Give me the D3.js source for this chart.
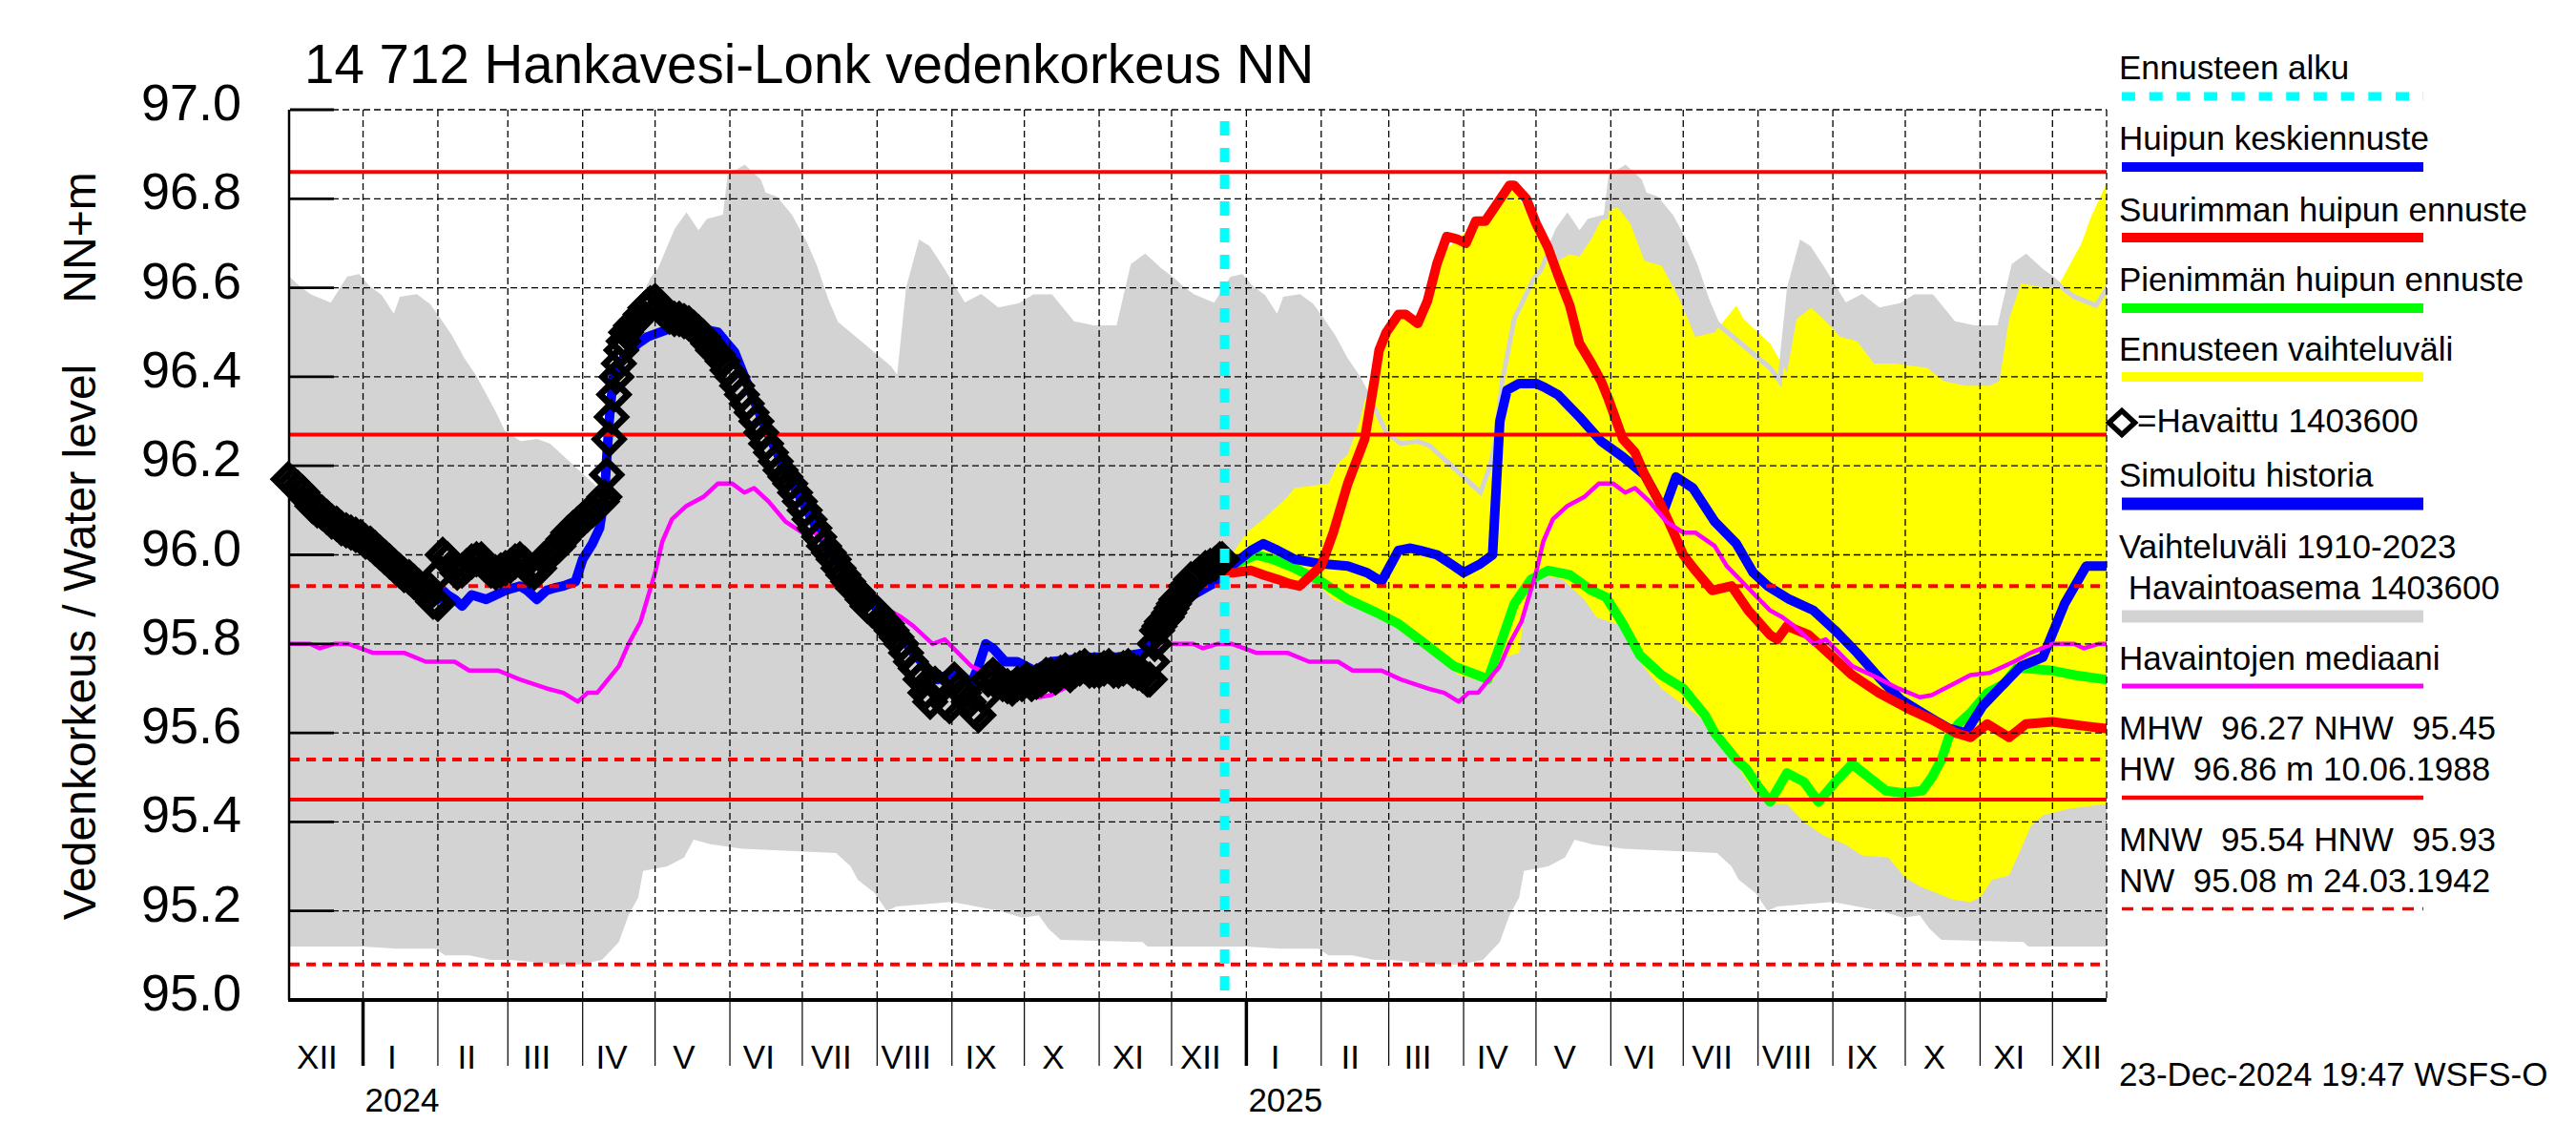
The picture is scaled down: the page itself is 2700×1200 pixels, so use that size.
<!DOCTYPE html>
<html><head><meta charset="utf-8">
<script src="https://cdn.jsdelivr.net/npm/d3@7"></script>
<style>
body{margin:0;background:#fff}
svg{display:block}
text{font-family:"Liberation Sans",Arial,Helvetica,sans-serif;fill:#000}
</style>
</head><body>
<svg id="chart" width="2700" height="1200"></svg>
<script>
// ---------------- DATA ----------------
const titleText = "14 712 Hankavesi-Lonk vedenkorkeus NN";
const yTitleMain = "Vedenkorkeus / Water level";
const yTitleUnit = "NN+m";
const monthLabels = ["I","II","III","IV","V","VI","VII","VIII","IX","X","XI","XII"];
const yearLabels = ["2024","2025"];
const yTicks = [95.0,95.2,95.4,95.6,95.8,96.0,96.2,96.4,96.6,96.8,97.0];
const forecastStart = "2024-12-23";

// reference levels
const refSolid = [96.86, 96.27, 95.45];   // HW, MHW, NHW
const refDashed = [95.93, 95.54, 95.08];  // HNW, MNW, NW

// climatology 1910-2023 (month-day, value) - repeats every year
const climUpper = [["01-03",96.60],["01-08",96.58],["01-14",96.53],["01-17",96.575],["01-23",96.58],["01-28",96.56],
["02-01",96.53],["02-06",96.49],["02-11",96.44],["02-16",96.40],["02-20",96.36],["02-24",96.32],["02-28",96.275],
["03-06",96.25],["03-13",96.255],["03-18",96.245],["03-23",96.22],["03-27",96.20],["04-01",96.175],["04-05",96.155],
["04-08",96.14],["04-12",96.20],["04-14",96.25],["04-17",96.39],["04-22",96.53],["04-26",96.575],["04-30",96.62],
["05-03",96.64],["05-10",96.73],["05-14",96.76],["05-19",96.72],["05-23",96.75],["05-30",96.76],["06-01",96.85],
["06-07",96.87],["06-13",96.84],["06-15",96.81],["06-20",96.80],["06-26",96.76],["07-02",96.70],["07-06",96.65],
["07-11",96.57],["07-15",96.52],["07-26",96.47],["08-06",96.42],["08-10",96.39],["08-14",96.60],["08-19",96.70],
["08-22",96.69],["08-28",96.64],["09-06",96.56],["09-13",96.58],["09-20",96.55],["09-29",96.56],["10-05",96.58],
["10-12",96.58],["10-21",96.52],["10-30",96.51],["11-09",96.51],["11-15",96.65],["11-20",96.67],["11-26",96.64],
["12-01",96.62],["12-05",96.60],["12-10",96.58],["12-19",96.56],["12-26",96.62],["12-30",96.625]];
const climLower = [["01-01",95.12],["01-15",95.115],["01-31",95.115],["02-04",95.10],["02-14",95.10],["02-23",95.09],
["03-02",95.09],["03-22",95.08],["03-31",95.08],["04-09",95.09],["04-16",95.13],["04-20",95.19],["04-24",95.23],
["04-26",95.29],["05-06",95.30],["05-13",95.32],["05-17",95.36],["05-24",95.35],["06-06",95.34],["07-15",95.33],
["07-21",95.30],["07-24",95.27],["07-31",95.24],["08-05",95.20],["08-09",95.21],["09-01",95.22],["09-21",95.20],
["09-30",95.185],["10-07",95.19],["10-11",95.16],["10-16",95.135],["11-19",95.13],["11-21",95.12],["12-03",95.12],["12-20",95.12]];
const climMedian = [["01-05",95.78],["01-18",95.78],["01-27",95.76],["02-08",95.76],["02-14",95.74],["02-26",95.74],
["03-06",95.72],["03-17",95.70],["03-24",95.69],["03-30",95.67],["04-03",95.69],["04-07",95.69],["04-16",95.75],
["04-20",95.80],["04-25",95.85],["05-01",95.96],["05-04",96.03],["05-08",96.08],["05-14",96.11],["05-21",96.13],
["05-27",96.16],["06-02",96.16],["06-07",96.14],["06-11",96.15],["06-17",96.12],["06-24",96.075],["07-01",96.05],
["07-06",96.05],["07-14",96.02],["07-19",95.975],["07-28",95.925],["08-06",95.875],["08-11",95.86],["08-16",95.84],
["08-24",95.80],["08-29",95.81],["09-09",95.75],["09-19",95.725],["09-28",95.70],["10-07",95.68],["10-12",95.685],
["10-21",95.71],["10-28",95.73],["11-05",95.735],["11-15",95.76],["11-22",95.78],["12-01",95.80],["12-10",95.80],
["12-14",95.79],["12-20",95.80],["12-26",95.80],["12-31",95.79]];

// observed water level (station 1403600)
const observed = [
["2023-12-01",96.17],["2023-12-03",96.16],["2023-12-05",96.15],["2023-12-07",96.14],["2023-12-09",96.125],["2023-12-11",96.11],
["2023-12-13",96.10],["2023-12-15",96.095],["2023-12-17",96.085],["2023-12-19",96.075],["2023-12-21",96.07],["2023-12-23",96.06],
["2023-12-25",96.055],["2023-12-27",96.05],["2023-12-29",96.045],["2023-12-31",96.04],
["2024-01-02",96.03],["2024-01-04",96.025],["2024-01-06",96.015],["2024-01-08",96.005],["2024-01-10",95.995],["2024-01-12",95.985],
["2024-01-14",95.975],["2024-01-16",95.965],["2024-01-18",95.955],["2024-01-20",95.95],["2024-01-22",95.94],["2024-01-24",95.93],
["2024-01-26",95.92],["2024-01-28",95.91],["2024-01-30",95.895],
["2024-02-01",95.89],["2024-02-02",95.96],["2024-02-03",96.00],["2024-02-05",95.99],["2024-02-07",95.975],["2024-02-09",95.96],
["2024-02-11",95.965],["2024-02-13",95.975],["2024-02-15",95.985],["2024-02-17",95.99],["2024-02-19",95.99],["2024-02-21",95.975],
["2024-02-23",95.965],["2024-02-25",95.96],["2024-02-27",95.965],["2024-02-29",95.97],
["2024-03-02",95.975],["2024-03-04",95.985],["2024-03-06",95.99],["2024-03-08",95.98],["2024-03-10",95.965],["2024-03-12",95.96],
["2024-03-14",95.97],["2024-03-16",95.99],["2024-03-18",96.00],["2024-03-20",96.01],["2024-03-22",96.02],["2024-03-24",96.035],
["2024-03-26",96.05],["2024-03-28",96.06],["2024-03-30",96.07],
["2024-04-01",96.08],["2024-04-03",96.09],["2024-04-05",96.10],["2024-04-07",96.11],["2024-04-09",96.12],["2024-04-10",96.13],
["2024-04-11",96.18],["2024-04-12",96.26],["2024-04-13",96.31],["2024-04-14",96.36],["2024-04-15",96.40],["2024-04-16",96.43],
["2024-04-17",96.46],["2024-04-18",96.48],["2024-04-19",96.50],["2024-04-21",96.515],["2024-04-23",96.525],["2024-04-25",96.54],
["2024-04-27",96.555],["2024-04-29",96.565],
["2024-05-01",96.57],["2024-05-03",96.555],["2024-05-05",96.545],["2024-05-07",96.535],["2024-05-09",96.53],["2024-05-11",96.53],
["2024-05-13",96.525],["2024-05-15",96.52],["2024-05-17",96.51],["2024-05-19",96.50],["2024-05-21",96.49],["2024-05-23",96.475],
["2024-05-25",96.46],["2024-05-27",96.45],["2024-05-29",96.435],["2024-05-31",96.415],
["2024-06-02",96.40],["2024-06-04",96.38],["2024-06-06",96.36],["2024-06-08",96.34],["2024-06-10",96.32],["2024-06-12",96.30],
["2024-06-14",96.275],["2024-06-16",96.25],["2024-06-18",96.23],["2024-06-20",96.21],["2024-06-22",96.19],["2024-06-24",96.175],
["2024-06-26",96.16],["2024-06-28",96.14],["2024-06-30",96.12],
["2024-07-02",96.10],["2024-07-04",96.08],["2024-07-06",96.06],["2024-07-08",96.04],["2024-07-10",96.02],["2024-07-12",96.005],
["2024-07-14",95.99],["2024-07-16",95.97],["2024-07-18",95.955],["2024-07-20",95.94],["2024-07-22",95.925],["2024-07-24",95.915],
["2024-07-26",95.90],["2024-07-28",95.885],["2024-07-30",95.875],
["2024-08-01",95.87],["2024-08-03",95.855],["2024-08-05",95.845],["2024-08-07",95.83],["2024-08-09",95.815],["2024-08-11",95.80],
["2024-08-13",95.78],["2024-08-15",95.76],["2024-08-17",95.745],["2024-08-19",95.72],["2024-08-21",95.69],["2024-08-23",95.67],
["2024-08-25",95.71],["2024-08-27",95.70],["2024-08-29",95.67],["2024-08-31",95.66],
["2024-09-02",95.72],["2024-09-04",95.70],["2024-09-06",95.69],["2024-09-08",95.67],["2024-09-10",95.65],["2024-09-12",95.64],
["2024-09-14",95.68],["2024-09-16",95.72],["2024-09-18",95.73],["2024-09-20",95.72],["2024-09-22",95.71],["2024-09-24",95.705],
["2024-09-26",95.70],["2024-09-28",95.71],["2024-09-30",95.71],
["2024-10-02",95.72],["2024-10-04",95.71],["2024-10-06",95.715],["2024-10-08",95.72],["2024-10-10",95.73],["2024-10-12",95.73],
["2024-10-14",95.725],["2024-10-16",95.735],["2024-10-18",95.74],["2024-10-20",95.73],["2024-10-22",95.74],["2024-10-24",95.745],
["2024-10-26",95.75],["2024-10-28",95.74],["2024-10-30",95.74],
["2024-11-01",95.74],["2024-11-03",95.745],["2024-11-05",95.75],["2024-11-07",95.74],["2024-11-09",95.74],["2024-11-11",95.745],
["2024-11-13",95.75],["2024-11-15",95.74],["2024-11-17",95.735],["2024-11-19",95.73],["2024-11-21",95.72],["2024-11-22",95.72],
["2024-11-23",95.76],["2024-11-24",95.80],["2024-11-25",95.83],["2024-11-26",95.84],["2024-11-27",95.85],["2024-11-28",95.855],
["2024-11-29",95.86],["2024-11-30",95.87],
["2024-12-01",95.88],["2024-12-02",95.89],["2024-12-03",95.90],["2024-12-05",95.91],["2024-12-07",95.93],["2024-12-09",95.945],
["2024-12-11",95.95],["2024-12-13",95.96],["2024-12-15",95.97],["2024-12-17",95.975],["2024-12-19",95.98],["2024-12-21",95.99],
["2024-12-22",95.99]];

// simulated history
const simulated = [["2023-12-01",96.16],["2023-12-16",96.08],["2024-01-01",96.03],["2024-01-16",95.96],["2024-02-01",95.90],
["2024-02-02",95.925],["2024-02-05",95.91],["2024-02-08",95.90],["2024-02-11",95.885],["2024-02-15",95.91],["2024-02-18",95.905],
["2024-02-21",95.90],["2024-02-25",95.91],["2024-02-29",95.92],["2024-03-03",95.925],["2024-03-06",95.93],["2024-03-09",95.92],
["2024-03-13",95.90],["2024-03-17",95.92],["2024-03-20",95.925],["2024-03-24",95.93],["2024-03-29",95.94],["2024-04-01",95.99],
["2024-04-05",96.025],["2024-04-08",96.06],["2024-04-10",96.13],["2024-04-11",96.22],["2024-04-12",96.30],["2024-04-13",96.36],
["2024-04-14",96.41],["2024-04-19",96.45],["2024-04-24",96.475],["2024-04-28",96.49],["2024-05-08",96.51],["2024-05-18",96.51],
["2024-05-27",96.50],["2024-06-03",96.455],["2024-06-10",96.36],["2024-06-17",96.27],["2024-06-24",96.19],["2024-07-01",96.12],
["2024-07-08",96.05],["2024-07-15",95.99],["2024-07-26",95.91],["2024-08-05",95.86],["2024-08-16",95.78],["2024-08-26",95.72],
["2024-08-30",95.73],["2024-09-03",95.74],["2024-09-09",95.71],["2024-09-12",95.75],["2024-09-15",95.80],["2024-09-18",95.79],
["2024-09-23",95.76],["2024-09-28",95.76],["2024-10-05",95.74],["2024-10-12",95.76],["2024-10-21",95.765],["2024-10-30",95.77],
["2024-11-09",95.77],["2024-11-20",95.78],["2024-11-25",95.83],["2024-12-01",95.89],["2024-12-10",95.91],["2024-12-18",95.935],
["2024-12-23",95.96]];

// forecasts
const forecastMean = [["2024-12-23",95.965],["2024-12-27",95.98],["2025-01-03",96.01],["2025-01-08",96.025],["2025-01-14",96.01],
["2025-01-21",95.99],["2025-02-01",95.98],["2025-02-12",95.975],["2025-02-20",95.96],["2025-02-26",95.94],["2025-03-01",95.97],
["2025-03-05",96.01],["2025-03-10",96.015],["2025-03-14",96.01],["2025-03-21",96.00],["2025-03-28",95.975],["2025-04-01",95.96],
["2025-04-08",95.98],["2025-04-13",96.00],["2025-04-14",96.10],["2025-04-16",96.30],["2025-04-19",96.37],["2025-04-24",96.385],
["2025-05-01",96.385],["2025-05-05",96.375],["2025-05-10",96.36],["2025-05-19",96.31],["2025-05-28",96.255],["2025-06-06",96.22],
["2025-06-15",96.18],["2025-06-23",96.10],["2025-06-28",96.175],["2025-07-05",96.15],["2025-07-14",96.075],["2025-07-23",96.025],
["2025-07-30",95.96],["2025-08-05",95.93],["2025-08-14",95.90],["2025-08-24",95.875],["2025-09-02",95.83],["2025-09-11",95.78],
["2025-09-20",95.725],["2025-09-29",95.675],["2025-10-08",95.645],["2025-10-19",95.61],["2025-10-26",95.60],["2025-11-02",95.66],
["2025-11-09",95.70],["2025-11-18",95.75],["2025-11-27",95.77],["2025-12-06",95.89],["2025-12-15",95.975],["2025-12-23",95.975]];
const forecastMax = [["2024-12-23",95.96],["2024-12-27",95.96],["2025-01-03",95.965],["2025-01-08",95.955],["2025-01-14",95.945],
["2025-01-19",95.935],["2025-01-23",95.93],["2025-01-28",95.955],["2025-02-01",95.975],["2025-02-06",96.05],["2025-02-12",96.16],
["2025-02-19",96.26],["2025-02-23",96.39],["2025-02-25",96.46],["2025-02-28",96.50],["2025-03-05",96.54],["2025-03-08",96.54],
["2025-03-13",96.52],["2025-03-17",96.57],["2025-03-21",96.655],["2025-03-25",96.715],["2025-03-29",96.71],["2025-04-02",96.70],
["2025-04-06",96.75],["2025-04-10",96.75],["2025-04-15",96.79],["2025-04-20",96.83],["2025-04-22",96.83],["2025-04-27",96.80],
["2025-05-01",96.745],["2025-05-06",96.69],["2025-05-10",96.63],["2025-05-15",96.56],["2025-05-19",96.475],["2025-05-24",96.43],
["2025-05-28",96.39],["2025-05-31",96.35],["2025-06-06",96.26],["2025-06-11",96.23],["2025-06-15",96.18],["2025-06-22",96.11],
["2025-06-27",96.05],["2025-07-01",96.00],["2025-07-06",95.965],["2025-07-13",95.92],["2025-07-21",95.93],["2025-07-28",95.875],
["2025-08-06",95.82],["2025-08-09",95.81],["2025-08-13",95.84],["2025-08-22",95.82],["2025-08-31",95.775],["2025-09-09",95.73],
["2025-09-20",95.69],["2025-10-02",95.655],["2025-10-12",95.63],["2025-10-22",95.60],["2025-10-28",95.59],["2025-11-04",95.62],
["2025-11-13",95.59],["2025-11-20",95.62],["2025-12-01",95.625],["2025-12-15",95.615],["2025-12-23",95.61]];
const forecastMin = [["2024-12-23",95.96],["2024-12-28",95.98],["2025-01-05",96.00],["2025-01-12",95.99],["2025-01-21",95.97],
["2025-02-01",95.94],["2025-02-12",95.90],["2025-02-24",95.87],["2025-03-05",95.845],["2025-03-16",95.80],["2025-03-28",95.75],
["2025-04-09",95.725],["2025-04-11",95.72],["2025-04-15",95.78],["2025-04-22",95.89],["2025-04-29",95.945],["2025-05-06",95.965],
["2025-05-15",95.955],["2025-05-24",95.92],["2025-05-30",95.905],["2025-06-06",95.845],["2025-06-13",95.775],["2025-06-22",95.73],
["2025-07-01",95.70],["2025-07-10",95.64],["2025-07-14",95.60],["2025-07-23",95.54],["2025-07-27",95.52],["2025-08-01",95.48],
["2025-08-06",95.445],["2025-08-13",95.51],["2025-08-20",95.49],["2025-08-26",95.445],["2025-09-02",95.49],["2025-09-09",95.53],
["2025-09-16",95.50],["2025-09-23",95.47],["2025-09-30",95.465],["2025-10-08",95.47],["2025-10-12",95.50],["2025-10-16",95.54],
["2025-10-19",95.59],["2025-10-23",95.62],["2025-10-28",95.645],["2025-11-04",95.69],["2025-11-11",95.71],["2025-11-16",95.745],
["2025-11-20",95.745],["2025-12-01",95.74],["2025-12-10",95.73],["2025-12-23",95.72]];
const forecastUpper = [["2024-12-23",95.96],["2024-12-26",96.00],["2025-01-01",96.05],["2025-01-08",96.08],["2025-01-17",96.125],
["2025-01-21",96.15],["2025-01-28",96.155],["2025-02-04",96.16],["2025-02-08",96.205],["2025-02-12",96.225],["2025-02-17",96.30],
["2025-02-21",96.39],["2025-02-26",96.49],["2025-03-08",96.54],["2025-03-13",96.53],["2025-03-19",96.60],["2025-03-23",96.68],
["2025-03-30",96.71],["2025-04-06",96.75],["2025-04-13",96.77],["2025-04-20",96.83],["2025-04-24",96.80],["2025-05-01",96.74],
["2025-05-05",96.69],["2025-05-10",96.66],["2025-05-15",96.675],["2025-05-19",96.67],["2025-05-24",96.71],["2025-05-30",96.775],
["2025-06-04",96.78],["2025-06-09",96.745],["2025-06-15",96.66],["2025-06-22",96.65],["2025-06-29",96.58],["2025-07-06",96.49],
["2025-07-14",96.50],["2025-07-23",96.56],["2025-07-26",96.53],["2025-08-06",96.475],["2025-08-13",96.41],["2025-08-17",96.53],
["2025-08-23",96.555],["2025-08-28",96.53],["2025-09-04",96.49],["2025-09-11",96.48],["2025-09-18",96.43],["2025-09-27",96.43],
["2025-10-03",96.425],["2025-10-10",96.42],["2025-10-17",96.39],["2025-10-26",96.38],["2025-11-05",96.38],["2025-11-09",96.39],
["2025-11-13",96.53],["2025-11-18",96.61],["2025-11-27",96.60],["2025-12-03",96.60],["2025-12-08",96.65],["2025-12-13",96.70],
["2025-12-17",96.76],["2025-12-23",96.83]];
const forecastLower = [["2024-12-23",95.96],["2024-12-27",95.955],["2025-01-08",95.95],["2025-01-19",95.93],["2025-01-28",95.945],
["2025-02-06",95.90],["2025-02-26",95.86],["2025-03-08",95.82],["2025-03-21",95.775],["2025-03-30",95.73],["2025-04-09",95.715],
["2025-04-13",95.715],["2025-04-18",95.77],["2025-04-24",95.78],["2025-04-27",95.90],["2025-05-03",95.955],["2025-05-12",95.945],
["2025-05-21",95.90],["2025-05-26",95.86],["2025-06-06",95.84],["2025-06-15",95.745],["2025-06-22",95.70],["2025-06-28",95.675],
["2025-07-08",95.635],["2025-07-14",95.60],["2025-07-23",95.53],["2025-07-30",95.47],["2025-08-06",95.44],["2025-08-13",95.44],
["2025-08-20",95.40],["2025-08-28",95.37],["2025-09-06",95.35],["2025-09-13",95.325],["2025-09-24",95.32],["2025-10-01",95.275],
["2025-10-07",95.255],["2025-10-14",95.24],["2025-10-21",95.225],["2025-10-28",95.22],["2025-11-01",95.23],["2025-11-06",95.27],
["2025-11-13",95.28],["2025-11-18",95.34],["2025-11-22",95.39],["2025-11-27",95.415],["2025-12-08",95.43],["2025-12-23",95.44]];

// legend texts
const legendForecast = ["Ennusteen alku","Huipun keskiennuste","Suurimman huipun ennuste","Pienimmän huipun ennuste","Ennusteen vaihteluväli"];
const legendObserved = "=Havaittu 1403600";
const legendSim = "Simuloitu historia";
const legendRange = ["Vaihteluväli 1910-2023"," Havaintoasema 1403600"];
const legendMedian = "Havaintojen mediaani";
const statTexts = ["MHW  96.27 NHW  95.45","HW  96.86 m 10.06.1988","MNW  95.54 HNW  95.93","NW  95.08 m 24.03.1942"];
const stampText = "23-Dec-2024 19:47 WSFS-O";

// ---------------- DRAW ----------------
const parse = s => { const [a,b,c] = s.split("-").map(Number); return new Date(Date.UTC(a,b-1,c)); };
const pts = arr => arr.map(d => [parse(d[0]), d[1]]);
function expandClim(arr){
  const out = [];
  [2023,2024,2025,2026].forEach(yr => arr.forEach(([md,v]) => {
    const [m,d] = md.split("-").map(Number);
    out.push([new Date(Date.UTC(yr,m-1,d)), v]);
  }));
  return out.filter(p => p[0] >= Date.UTC(2023,9,1) && p[0] <= Date.UTC(2026,2,1)).sort((a,b)=>a[0]-b[0]);
}

const L = 304, R = 2208, T = 115, B = 1048;
const x = d3.scaleUtc().domain([new Date(Date.UTC(2023,11,1,18)), new Date(Date.UTC(2025,11,23,10))]).range([L, R]);
const y = d3.scaleLinear().domain([95, 97]).range([B, T]);
const line = d3.line().x(d => x(d[0])).y(d => y(d[1]));

const svg = d3.select("#chart");
svg.append("rect").attr("width",2700).attr("height",1200).attr("fill","#fff");
svg.append("defs").append("clipPath").attr("id","plot")
  .append("rect").attr("x",L).attr("y",T-10).attr("width",R-L).attr("height",B-T+10);
const plot = svg.append("g").attr("clip-path","url(#plot)");

// gray historic band
const cu = expandClim(climUpper), cl = expandClim(climLower), cm = expandClim(climMedian);
plot.append("path").attr("d", line(cu.concat(cl.slice().reverse())) + "Z").attr("fill","#d3d3d3");

// yellow forecast band
const fu = pts(forecastUpper), fl = pts(forecastLower);
plot.append("path").attr("d", line(fu.concat(fl.slice().reverse())) + "Z").attr("fill","#ffff00");

// gray upper edge over yellow
plot.append("path").attr("d", line(cu)).attr("fill","none").attr("stroke","#d3d3d3").attr("stroke-width",5);

// grid
const gridG = svg.append("g").attr("stroke","#000").attr("stroke-width",1.3).attr("stroke-dasharray","7,4");
yTicks.filter(v => v > 95.01).forEach(v => {
  gridG.append("line").attr("x1",L).attr("x2",R).attr("y1",y(v)).attr("y2",y(v));
});
const months = d3.utcMonth.range(new Date(Date.UTC(2024,0,1)), new Date(Date.UTC(2025,11,24)));
months.forEach(m => {
  gridG.append("line").attr("x1",x(m)).attr("x2",x(m)).attr("y1",T).attr("y2",B);
});
gridG.append("line").attr("x1",R).attr("x2",R).attr("y1",T).attr("y2",B);

// y ticks & labels
yTicks.forEach(v => {
  svg.append("line").attr("x1",L).attr("x2",L+46).attr("y1",y(v)).attr("y2",y(v))
    .attr("stroke","#000").attr("stroke-width",2.8);
  svg.append("text").attr("x",253).attr("y",y(v)+11).attr("text-anchor","end")
    .attr("font-size",54).text(d3.format(".1f")(v));
});

// reference lines
refSolid.forEach(v => svg.append("line").attr("x1",L).attr("x2",R).attr("y1",y(v)).attr("y2",y(v))
  .attr("stroke","#ff0000").attr("stroke-width",4));
refDashed.forEach(v => svg.append("line").attr("x1",L).attr("x2",R).attr("y1",y(v)).attr("y2",y(v))
  .attr("stroke","#ff0000").attr("stroke-width",4).attr("stroke-dasharray","10,7"));

// axes lines
svg.append("line").attr("x1",L-1).attr("x2",L-1).attr("y1",T).attr("y2",B).attr("stroke","#000").attr("stroke-width",2.5);
svg.append("line").attr("x1",L-2).attr("x2",R).attr("y1",B).attr("y2",B).attr("stroke","#000").attr("stroke-width",4);

// month ticks and labels
months.forEach(m => {
  const isYear = m.getUTCMonth() === 0;
  svg.append("line").attr("x1",x(m)).attr("x2",x(m)).attr("y1",B).attr("y2",1117)
    .attr("stroke","#000").attr("stroke-width", isYear ? 3.5 : 1.2);
});
d3.utcMonth.range(new Date(Date.UTC(2023,11,1)), new Date(Date.UTC(2025,11,24))).forEach(m => {
  svg.append("text").attr("x", x(d3.utcDay.offset(m,12))).attr("y",1120).attr("text-anchor","middle")
    .attr("font-size",35).text(monthLabels[m.getUTCMonth()]);
});
yearLabels.forEach(yl => {
  svg.append("text").attr("x", x(new Date(Date.UTC(+yl,0,1))) + 2).attr("y",1165)
    .attr("font-size",35).text(yl);
});

// simulated history
plot.append("path").attr("d", line(pts(simulated))).attr("fill","none").attr("stroke","#0000ff")
  .attr("stroke-width",10).attr("stroke-linejoin","round");

// forecast lines
[[forecastMin,"#00ff00"],[forecastMean,"#0000ff"],[forecastMax,"#ff0000"]].forEach(([arr,col]) => {
  plot.append("path").attr("d", line(pts(arr))).attr("fill","none").attr("stroke",col)
    .attr("stroke-width",10).attr("stroke-linejoin","round").attr("stroke-linecap","round");
});

// observed diamonds
const diamond = (cx,cy,hw,hh) => `M${cx},${cy-hh}L${cx+hw},${cy}L${cx},${cy+hh}L${cx-hw},${cy}Z`;
svg.append("g").selectAll("path").data(pts(observed)).join("path")
  .attr("d", d => diamond(x(d[0]), y(d[1]), 14.5, 14.5))
  .attr("fill","none").attr("stroke","#000").attr("stroke-width",7);

// median
plot.append("path").attr("d", line(cm)).attr("fill","none").attr("stroke","#ff00ff")
  .attr("stroke-width",4.5).attr("stroke-linejoin","round");

// forecast start line
const fx = x(parse(forecastStart));
svg.append("line").attr("x1",fx).attr("x2",fx).attr("y1",127).attr("y2",B)
  .attr("stroke","#00ffff").attr("stroke-width",10).attr("stroke-dasharray","15,13");

// title
svg.append("text").attr("x",319).attr("y",87).attr("font-size",56.5).text(titleText);
// y title
svg.append("text").attr("transform","translate(100,673) rotate(-90)").attr("text-anchor","middle")
  .attr("font-size",48).text(yTitleMain);
svg.append("text").attr("transform","translate(100,249) rotate(-90)").attr("text-anchor","middle")
  .attr("font-size",48).text(yTitleUnit);

// legend
const LX = 2221, LX1 = 2224, LX2 = 2540;
const lg = svg.append("g").attr("font-size",35);
const legBase = [83,157,232,305,378], legLine = [101,175,249,323,395];
const legCols = ["#00ffff","#0000ff","#ff0000","#00ff00","#ffff00"];
legendForecast.forEach((t,i) => {
  lg.append("text").attr("x",LX).attr("y",legBase[i]).text(t);
  const ln = lg.append("line").attr("x1",LX1).attr("x2",LX2).attr("y1",legLine[i]).attr("y2",legLine[i])
    .attr("stroke",legCols[i]).attr("stroke-width", i === 0 ? 9 : 10);
  if (i === 0) ln.attr("stroke-dasharray","14,14.7");
});
lg.append("path").attr("d", diamond(2224,443,13.5,12.5)).attr("fill","#fff").attr("stroke","#000").attr("stroke-width",5.5);
lg.append("text").attr("x",2240).attr("y",453).text(legendObserved);
lg.append("text").attr("x",LX).attr("y",510).text(legendSim);
lg.append("line").attr("x1",LX1).attr("x2",LX2).attr("y1",528).attr("y2",528).attr("stroke","#0000ff").attr("stroke-width",13);
lg.append("text").attr("x",LX).attr("y",585).text(legendRange[0]);
lg.append("text").attr("x",LX).attr("y",628).style("white-space","pre").text(legendRange[1]);
lg.append("line").attr("x1",LX1).attr("x2",LX2).attr("y1",646).attr("y2",646).attr("stroke","#d3d3d3").attr("stroke-width",13);
lg.append("text").attr("x",LX).attr("y",702).text(legendMedian);
lg.append("line").attr("x1",LX1).attr("x2",LX2).attr("y1",719).attr("y2",719).attr("stroke","#ff00ff").attr("stroke-width",5);
[775,818,892,935].forEach((yy,i) => lg.append("text").attr("x",LX).attr("y",yy).style("white-space","pre").text(statTexts[i]));
lg.append("line").attr("x1",LX1).attr("x2",LX2).attr("y1",836).attr("y2",836).attr("stroke","#ff0000").attr("stroke-width",4.5);
lg.append("line").attr("x1",LX1).attr("x2",LX2).attr("y1",952.5).attr("y2",952.5).attr("stroke","#ff0000").attr("stroke-width",3.5).attr("stroke-dasharray","12,9");
lg.append("text").attr("x",LX).attr("y",1138).text(stampText);
</script>
</body></html>
